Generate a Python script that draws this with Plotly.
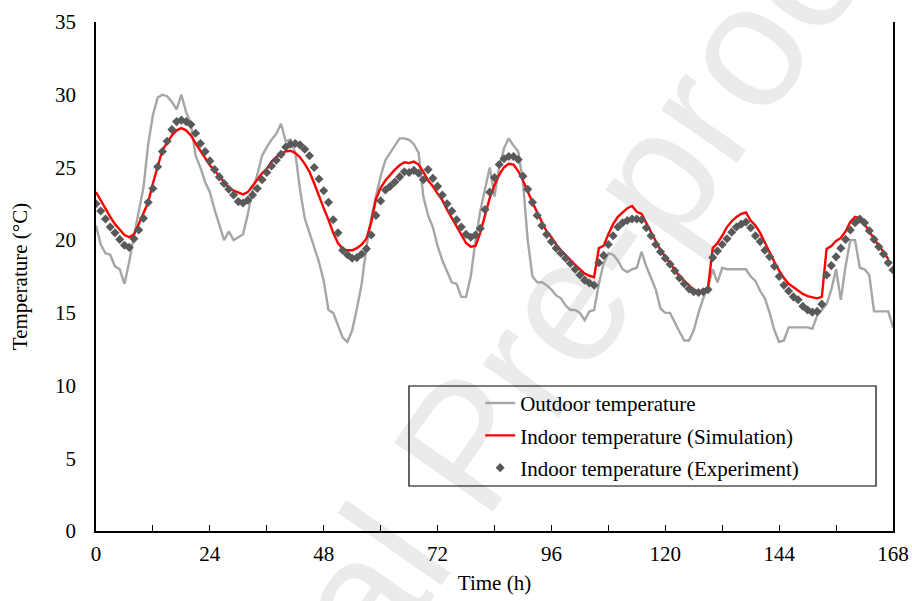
import plotly.graph_objects as go

# ---------------- data ----------------
hours = list(range(0, 169))
sim_hours = list(range(0, 168))

outdoor_temp = [
    21.0, 19.7, 19.1, 19.0, 18.2, 18.0, 17.0, 18.5, 20.3, 22.0,
    23.6, 26.6, 28.6, 29.8, 30.0, 29.9, 29.5, 29.0, 30.0, 28.8,
    28.0, 25.8, 25.0, 24.0, 23.3, 22.1, 21.0, 20.0, 20.6, 20.0,
    20.2, 20.4, 21.8, 23.4, 24.5, 25.8, 26.4, 26.9, 27.3, 28.0,
    26.8, 26.9, 26.0, 23.5, 21.5, 20.5, 19.5, 18.5, 17.2, 15.2,
    15.0, 14.2, 13.3, 13.0, 13.8, 15.3, 17.0, 19.5, 21.5, 23.0,
    24.4, 25.5, 26.0, 26.5, 27.0, 27.0, 26.9, 26.6, 26.0, 23.0,
    21.7, 20.9, 19.6, 18.6, 17.8, 17.1, 17.0, 16.1, 16.1, 17.5,
    20.0, 22.0, 23.5, 25.0, 23.0, 25.0, 26.3, 27.0, 26.5, 26.1,
    24.0, 20.0, 17.5, 17.1, 17.1, 16.9, 16.6, 16.2, 16.0, 15.5,
    15.2, 15.2, 15.0, 14.5, 15.1, 15.2, 17.0, 18.4, 19.1, 19.0,
    18.6, 18.0, 17.8, 18.0, 18.1, 19.2, 18.2, 17.4, 16.6, 15.3,
    15.0, 15.0, 14.3, 13.7, 13.1, 13.1, 13.8, 15.0, 16.0, 16.8,
    18.0, 17.1, 18.1, 18.0, 18.0, 18.0, 18.0, 18.0, 17.5, 17.2,
    16.5, 16.0, 15.0, 13.8, 13.0, 13.1, 14.0, 14.0, 14.0, 14.0,
    14.0, 13.9, 14.8, 15.2, 15.6, 16.6, 18.0, 15.9, 18.2, 20.0,
    20.0, 18.1, 18.0, 17.6, 15.1, 15.1, 15.1, 15.1, 14.0,
]

indoor_sim = [
    23.3, 22.7, 22.1, 21.6, 21.1, 20.7, 20.35, 20.2, 20.4, 21.1,
    21.8, 22.6, 23.9, 25.1, 26.2, 26.7, 27.2, 27.55, 27.7, 27.55,
    27.2, 26.65, 26.15, 25.6, 25.15, 24.8, 24.4, 24.0, 23.6, 23.4,
    23.3, 23.15, 23.3, 23.75, 24.2, 24.6, 24.9, 25.4, 25.7, 25.95,
    26.1, 26.15, 26.0, 25.7, 25.25, 24.7, 23.9, 23.0, 22.2, 21.4,
    20.5, 19.8, 19.4, 19.3, 19.3, 19.45, 19.7, 20.1, 21.2, 22.8,
    23.6, 24.1, 24.5, 24.85, 25.15, 25.35, 25.3, 25.4, 25.2, 24.7,
    24.1, 23.7, 23.2, 22.75, 22.1, 21.5, 20.9, 20.35, 19.8, 19.55,
    19.6, 20.5, 21.7, 22.9, 23.8, 24.5, 25.0, 25.25, 25.2, 24.75,
    24.1, 23.3, 22.6, 21.9, 21.2, 20.6, 20.2, 19.7, 19.3, 18.95,
    18.6, 18.3, 18.0, 17.7, 17.55, 17.45, 19.45, 19.6, 20.4, 21.1,
    21.6, 21.9, 22.2, 22.35, 21.95, 21.8, 21.2, 20.5, 19.9, 19.3,
    18.86, 18.4, 17.9, 17.5, 17.2, 16.9, 16.6, 16.45, 16.55, 16.7,
    19.45, 19.8, 20.3, 20.9, 21.3, 21.6, 21.8, 21.9, 21.35, 21.0,
    20.5, 19.8, 19.2, 18.5, 17.9, 17.4, 17.0, 16.75, 16.5, 16.3,
    16.15, 16.05, 16.0, 16.1, 19.4, 19.6, 19.95, 20.15, 20.6, 21.25,
    21.6, 21.5, 21.1, 20.6, 20.1, 19.6, 19.2, 18.7,
]

indoor_exp = [
    22.5, 22.0, 21.45, 20.9, 20.5, 20.05, 19.65, 19.5, 20.1, 20.7,
    21.5, 22.6, 23.55, 25.05, 26.1, 26.8, 27.6, 28.15, 28.25, 28.15,
    27.95, 27.35, 26.65, 26.1, 25.45, 24.85, 24.35, 23.9, 23.5, 23.1,
    22.65, 22.55, 22.75, 23.1, 23.55, 24.15, 24.65, 25.1, 25.5, 25.9,
    26.4, 26.6, 26.65, 26.55, 26.25, 25.8, 25.0, 24.2, 23.4, 22.6,
    21.4, 20.5, 19.3, 19.0, 18.75, 18.8, 19.05, 19.4, 20.35, 21.7,
    22.7, 23.45, 23.7, 24.0, 24.35, 24.7, 24.65, 24.8, 24.6, 24.15,
    24.85, 24.25, 23.7, 23.1, 22.5, 22.0, 21.4, 20.9, 20.4, 20.2,
    20.35, 20.8, 22.1, 23.3, 24.3, 25.2, 25.6, 25.75, 25.75, 25.55,
    24.4, 23.5, 22.6, 21.7, 21.0, 20.4, 19.9, 19.45, 19.1, 18.75,
    18.4, 18.0, 17.6, 17.25, 17.05, 16.9, 18.45, 18.95, 19.7, 20.3,
    20.9, 21.2, 21.35, 21.45, 21.45, 21.4, 20.85, 20.3, 19.7, 19.2,
    18.75, 18.35, 17.9, 17.4, 17.0, 16.65, 16.45, 16.4, 16.45, 16.6,
    18.8, 19.25, 19.7, 20.1, 20.55, 20.9, 21.1, 21.25, 20.85, 20.3,
    19.9, 19.3, 18.86, 18.2, 17.5, 16.9, 16.5, 16.1, 15.9, 15.45,
    15.2, 15.05, 15.1, 15.6, 17.6, 18.25, 18.85, 19.45, 20.05, 20.7,
    21.2, 21.45, 21.2, 20.65, 20.05, 19.55, 19.05, 18.45, 17.95,
]

x_tick_values = list(range(0, 169, 12))
x_tick_labels = [str(v) if v % 24 == 0 else "" for v in x_tick_values]
y_tick_values = [0, 5, 10, 15, 20, 25, 30, 35]

series_names = [
    "Outdoor temperature",
    "Indoor temperature (Simulation)",
    "Indoor temperature (Experiment)",
]

# ---------------- figure ----------------
FONT = "Liberation Serif, Times New Roman, serif"
FS = 21

fig = go.Figure()
fig.add_trace(go.Scatter(
    x=hours, y=outdoor_temp, mode="lines", name=series_names[0],
    line=dict(color="#A6A6A6", width=2.4), legendgroup="a",
))
fig.add_trace(go.Scatter(
    x=sim_hours, y=indoor_sim, mode="lines", name=series_names[1],
    line=dict(color="#FF0000", width=2.4), legendgroup="b",
))
fig.add_trace(go.Scatter(
    x=hours, y=indoor_exp, mode="markers", name=series_names[2],
    marker=dict(symbol="diamond", size=7, color="#595959"), legendgroup="c",
))

fig.update_layout(
    width=912, height=601,
    margin=dict(l=96, r=19, t=22, b=70, autoexpand=False),
    paper_bgcolor="white", plot_bgcolor="white",
    font=dict(family=FONT, size=FS, color="black"),
    showlegend=True,
    legend=dict(
        x=0.482, y=0.291, xanchor="left", yanchor="top",
        bgcolor="rgba(0,0,0,0)", borderwidth=0,
        font=dict(family=FONT, size=FS, color="black"),
        tracegroupgap=2, traceorder="grouped",
    ),
    xaxis=dict(
        range=[0, 168], tickmode="array", tickvals=x_tick_values, ticktext=x_tick_labels,
        ticks="inside", ticklen=6, tickwidth=1.3, tickcolor="black",
        showline=True, linecolor="black", linewidth=1.5,
        showgrid=False, zeroline=False, automargin=False,
        ticklabelstandoff=3,
        title=dict(text="Time (h)", font=dict(family=FONT, size=FS), standoff=10),
    ),
    yaxis=dict(
        range=[0, 35], tickmode="array", tickvals=y_tick_values,
        ticks="", showline=True, linecolor="black", linewidth=1.5, mirror=True,
        showgrid=False, zeroline=False, automargin=False,
        ticklabelstandoff=14,
        title=dict(text="Temperature (°C)", font=dict(family=FONT, size=FS), standoff=22),
    ),
    shapes=[
        # legend frame
        dict(type="rect", xref="paper", yref="paper",
             x0=0.3927, x1=0.9787, y0=0.0884, y1=0.2849,
             line=dict(color="black", width=1.2), fillcolor="rgba(0,0,0,0)", layer="above"),
        # watermark
        dict(type="rect", xref="paper", yref="paper",
             x0=(452 - 96) / 797 - 0.01, x1=(452 - 96) / 797 + 0.01,
             y0=(531 - 435) / 509 - 0.01, y1=(531 - 435) / 509 + 0.01,
             line=dict(width=0), fillcolor="rgba(0,0,0,0)", layer="below",
             label=dict(text="Journal Pre-proof", textangle=-55,
                        textposition="middle center",
                        font=dict(family="Liberation Sans, Arial, sans-serif", size=175,
                                  color="#EBEBEB"))),
    ],
)

fig.write_html("out.html")
